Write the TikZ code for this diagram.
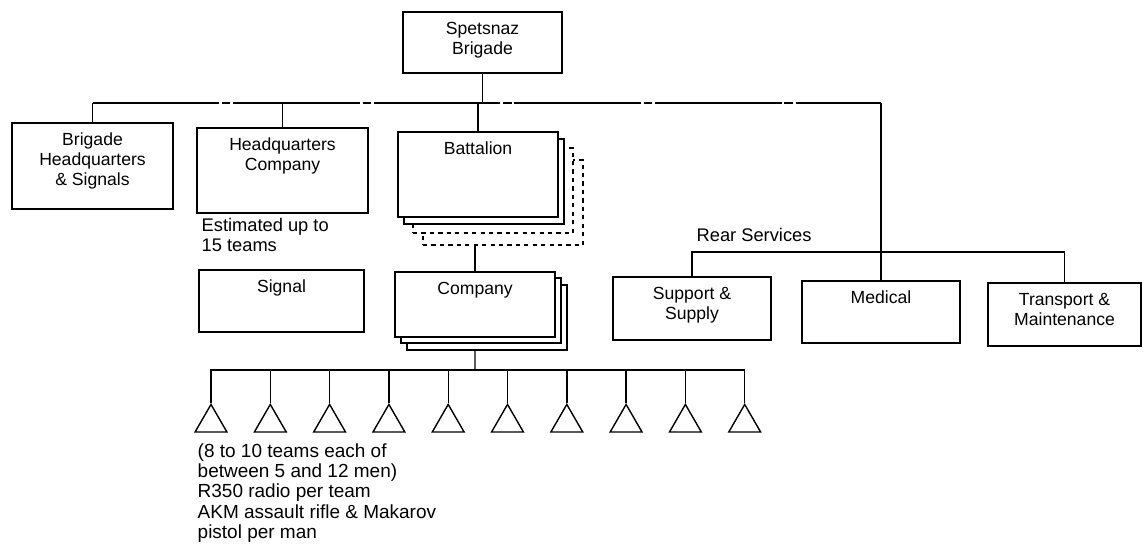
\documentclass[tikz,border=0pt]{standalone}
\usepackage{fontspec}
\setmainfont{Liberation Sans}
\usetikzlibrary{shapes.geometric}

% box text: width, height, lines (set from the top)
\newcommand{\unittext}[3]{\parbox[c][#2][t]{#1}{\centering\vspace*{6pt}\strut#3}}

\begin{document}
\begin{tikzpicture}[x=0.025cm, y=-0.025cm, line width=1pt,
    font=\fontsize{12.5}{14.2}\selectfont,
    unit/.style={draw, fill=white, inner sep=0pt, outer sep=0pt, anchor=north west},
    stackdash/.style={unit, dash pattern=on 3pt off 3pt},
    team/.style={draw, regular polygon, regular polygon sides=3, minimum size=0.92cm,
                 inner sep=0pt, anchor=corner 1},
    note/.style={anchor=north west, align=left, inner sep=0pt,
                 font=\fontsize{13}{14.2}\selectfont},
    busline/.style={dash pattern=on 90pt off 2pt on 6pt off 2pt}]

\useasboundingbox (0,0) rectangle (1143,549);

% Top
\node[unit] (brig) at (403,12) {\unittext{3.975cm}{1.525cm}{Spetsnaz\\Brigade}};

% First row
\node[unit] (bhq) at (12,123) {\unittext{4.025cm}{2.15cm}{Brigade\\Headquarters\\\& Signals}};
\node[unit] (hqco) at (197,128) {\unittext{4.275cm}{2.125cm}{Headquarters\\Company}};

% Battalion stack, back to front
\foreach \n/\dx/\dy/\ls in {bat3/25/28/stackdash, bat2/15/16/stackdash, bat1/6/7/unit} {
    \node[\ls] (\n) at (398+\dx,132+\dy) {\unittext{4cm}{2.125cm}{}};
}
\node[unit] (bat) at (398,132) {\unittext{4cm}{2.125cm}{Battalion}};

% Second row
\node[unit] (sig) at (199,270) {\unittext{4.125cm}{1.55cm}{Signal}};
\foreach \n/\dx/\dy in {co2/12/13, co1/6/6} {
    \node[unit] (\n) at (395+\dx,272+\dy) {\unittext{4cm}{1.625cm}{}};
}
\node[unit] (co) at (395,272) {\unittext{4cm}{1.625cm}{Company}};

% Rear services
\node[unit] (sup) at (613,277) {\unittext{3.95cm}{1.575cm}{Support \&\\Supply}};
\node[unit] (med) at (802,281) {\unittext{3.95cm}{1.55cm}{Medical}};
\node[unit] (trn) at (988,283) {\unittext{3.825cm}{1.575cm}{Transport \&\\Maintenance}};

% Teams
\foreach \i in {1,...,10} {
    \node[team] (t\i) at ({211+(\i-1)*59.3},403) {};
}

% Notes
\node[note] (est) at (201,218) {Estimated up to\\15 teams};
\node[note, anchor=base west] (rearlbl) at (696,241) {Rear Services};
\node[note, font=\fontsize{13.5}{14.4}\selectfont] (teamnote) at (197,443)
    {(8 to 10 teams each of\\between 5 and 12 men)\\R350 radio per team\\AKM assault rifle \& Makarov\\pistol per man};

% Lines
\coordinate (bus) at (480,103);
\coordinate (rear) at (880,252);
\coordinate (teams) at (475,370);

\draw[busline] (bhq.north |- bus) -- (med.north |- bus);
\draw (bhq.north) -- (bhq.north |- bus);
\draw (brig.south) -- (brig.south |- bus);
\draw (hqco.north) -- (hqco.north |- bus);
\draw (bat.north) -- (bat.north |- bus);
\draw (med.north |- bus) -- (med.north);

\draw (sup.north) |- (rear) -| (trn.north);

\draw (bat3.south -| co.north) -- (co.north);
\draw (co2.south -| co.north) -- (teams);
\draw (t1.north) |- (teams) -| (t10.north);
\foreach \i in {2,...,9} {
    \draw (t\i.north) -- (t\i.north |- teams);
}

\end{tikzpicture}
\end{document}
